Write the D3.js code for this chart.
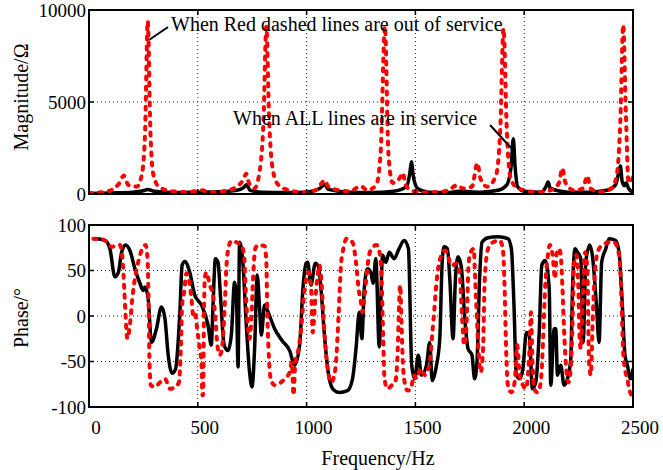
<!DOCTYPE html>
<html>
<head>
<meta charset="utf-8">
<script src="https://cdn.jsdelivr.net/npm/d3@7"></script>
<style>
  body { margin: 0; background: #fff; }
  svg { display: block; }
  text { font-family: "Liberation Serif", "Times New Roman", "DejaVu Serif", serif; fill: #000; }
</style>
</head>
<body>
<svg id="chart" width="663" height="470"></svg>
<script>
// ---- data: [frequency Hz, value] ----
const xTicks = [0, 500, 1000, 1500, 2000, 2500];
const magTicks = [0, 5000, 10000];
const phaseTicks = [-100, -50, 0, 50, 100];

// magnitude (ohm), all lines in service
const blackMag = [[0,30],[100,60],[200,100],[250,180],[270,250],[300,150],[400,80],[500,100],[600,120],[680,200],[710,350],[724,500],[740,200],[800,100],[900,80],[1000,100],[1060,300],[1083,500],[1100,250],[1200,100],[1300,80],[1400,150],[1460,400],[1475,1200],[1482,1750],[1490,1000],[1510,300],[1560,100],[1650,80],[1700,150],[1800,100],[1880,200],[1920,500],[1940,1500],[1950,3000],[1958,1500],[1970,400],[2000,150],[2080,100],[2100,400],[2110,650],[2120,300],[2200,100],[2300,100],[2380,200],[2420,500],[2435,1200],[2442,1520],[2450,700],[2460,450],[2468,600],[2480,300],[2500,80]];

// magnitude (ohm), red dashed lines out of service
const redMag = [[0,50],[50,80],[100,200],[140,600],[160,1000],[180,500],[220,400],[245,1200],[258,3500],[270,9400],[282,3500],[295,1100],[320,400],[380,150],[450,100],[520,200],[560,80],[620,150],[680,400],[710,800],[722,1100],[735,600],[760,300],[785,1300],[802,4000],[815,9100],[828,4000],[845,1300],[870,500],[920,200],[980,100],[1040,200],[1070,600],[1083,750],[1100,400],[1150,200],[1200,150],[1248,430],[1280,200],[1320,500],[1340,2200],[1360,9100],[1376,2200],[1395,600],[1430,900],[1442,1150],[1455,500],[1480,200],[1530,80],[1600,100],[1650,200],[1693,480],[1720,300],[1760,400],[1785,1680],[1800,800],[1830,400],[1870,1000],[1890,3500],[1905,9000],[1920,3500],[1935,1000],[1960,400],[2000,200],[2060,100],[2120,200],[2160,600],[2175,1400],[2190,600],[2230,200],[2270,300],[2290,980],[2305,300],[2350,100],[2400,300],[2425,1000],[2442,4000],[2455,9200],[2467,4500],[2480,600],[2500,900]];

// phase (deg), all lines in service
const blackPhase = [[20,85],[35,85],[73,83],[96,74],[119,43],[135,48],[150,70],[168,78],[188,72],[211,52],[234,36],[249,28],[257,32],[272,19],[287,-29],[310,-14],[333,10],[349,-3],[364,-43],[382,-63],[398,-58],[417,1],[428,56],[440,60],[463,48],[486,23],[517,12],[547,-10],[562,-32],[570,12],[581,63],[593,59],[605,19],[621,-32],[639,-38],[654,-21],[669,37],[677,26],[685,-56],[692,81],[708,56],[723,-10],[738,-62],[749,-78],[761,-36],[773,45],[784,8],[792,-21],[807,12],[825,3],[853,-14],[887,-27],[922,-38],[945,-54],[968,-32],[983,30],[998,58],[1005,59],[1020,34],[1040,58],[1055,54],[1066,30],[1081,-18],[1097,-58],[1120,-80],[1150,-84],[1188,-82],[1211,-69],[1227,-36],[1242,4],[1254,-25],[1265,30],[1280,52],[1295,48],[1306,36],[1318,63],[1334,-34],[1349,67],[1364,59],[1380,70],[1402,63],[1425,74],[1448,83],[1468,74],[1483,-54],[1497,-69],[1513,-43],[1528,-65],[1551,-54],[1566,-29],[1577,-71],[1597,-54],[1612,-25],[1623,59],[1632,76],[1647,74],[1658,41],[1673,-25],[1684,41],[1696,65],[1711,54],[1727,-3],[1742,-36],[1760,-43],[1772,-69],[1783,-51],[1795,41],[1806,81],[1834,86],[1880,87],[1925,85],[1941,74],[1953,12],[1964,-65],[1979,-69],[1994,-58],[2010,-18],[2023,-21],[2038,-80],[2053,-73],[2069,-18],[2081,56],[2096,61],[2115,30],[2122,-76],[2138,-14],[2145,-14],[2153,-65],[2168,-54],[2183,-76],[2199,-69],[2214,-47],[2222,30],[2234,74],[2245,70],[2260,63],[2271,-29],[2283,59],[2301,78],[2313,67],[2332,12],[2344,-29],[2356,59],[2375,74],[2390,85],[2420,83],[2436,70],[2451,12],[2463,-43],[2474,-54],[2489,-69],[2500,-58]];

// phase (deg), red dashed lines out of service
const redPhase = [[20,85],[43,85],[81,82],[104,76],[122,77],[142,78],[154,63],[162,30],[168,1],[176,-25],[188,-10],[199,19],[211,41],[226,59],[245,74],[260,78],[269,63],[274,12],[278,-51],[284,-76],[303,-78],[326,-73],[349,-69],[372,-80],[395,-78],[413,-73],[422,-36],[428,12],[437,26],[448,47],[459,41],[471,19],[479,1],[486,4],[499,-18],[509,-36],[517,-51],[521,-87],[524,-87],[529,12],[532,41],[540,48],[555,34],[570,23],[581,-3],[590,-32],[601,-43],[611,-36],[624,12],[631,52],[642,76],[657,83],[677,81],[700,78],[712,67],[723,15],[731,-14],[738,-25],[746,-3],[754,41],[764,74],[777,78],[807,77],[815,59],[819,8],[825,-36],[835,-69],[853,-76],[876,-74],[899,-69],[922,-62],[932,-51],[940,-87],[948,-51],[963,-36],[975,-14],[988,23],[998,41],[1009,48],[1021,30],[1028,-18],[1040,19],[1051,45],[1058,56],[1066,45],[1077,1],[1086,-32],[1097,-58],[1112,-73],[1123,-69],[1135,-51],[1147,1],[1158,56],[1169,74],[1184,85],[1211,81],[1227,59],[1239,30],[1250,15],[1257,4],[1265,19],[1276,45],[1288,68],[1306,76],[1321,78],[1337,68],[1346,30],[1352,-25],[1358,-69],[1372,-80],[1392,-76],[1407,-73],[1418,-43],[1425,12],[1430,34],[1436,-7],[1441,-43],[1448,-69],[1464,-82],[1479,-80],[1494,-65],[1505,-69],[1525,-58],[1543,-65],[1566,-51],[1577,-21],[1586,4],[1597,37],[1607,56],[1620,67],[1635,72],[1650,67],[1662,56],[1673,56],[1688,58],[1704,45],[1714,1],[1724,-32],[1734,-14],[1745,59],[1754,70],[1769,74],[1772,56],[1780,12],[1788,-29],[1800,-62],[1811,-36],[1818,37],[1834,74],[1857,81],[1887,83],[1902,74],[1910,30],[1916,-29],[1925,-76],[1941,-84],[1956,-73],[1968,-32],[1979,-65],[1994,-76],[2008,-80],[2023,-43],[2031,4],[2038,-51],[2046,-80],[2061,-84],[2076,-73],[2087,-25],[2096,30],[2107,63],[2118,78],[2130,68],[2142,41],[2148,67],[2160,74],[2168,67],[2176,30],[2183,-14],[2191,-51],[2203,-73],[2214,-58],[2222,-7],[2229,56],[2240,67],[2249,30],[2255,-25],[2260,-36],[2271,30],[2280,70],[2290,52],[2298,-51],[2306,-65],[2316,4],[2329,59],[2344,74],[2367,79],[2390,81],[2413,81],[2436,67],[2448,12],[2454,-36],[2463,-58],[2474,-69],[2482,-80],[2497,-88]];

// ---- layout ----
const svg = d3.select('#chart');
const left = 89, right = 633;
const x = d3.scaleLinear().domain([0, 2500]).range([left, right]);
const yMag = d3.scaleLinear().domain([0, 10000]).range([194, 10]);
const yPh = d3.scaleLinear().domain([-100, 100]).range([407, 225]);
const serif = '"Liberation Serif", "Times New Roman", serif';

function drawPanel(y, yTicks, blackData, redData, id, showX) {
  const [y0, y1] = y.range();  // bottom, top
  const g = svg.append('g');

  g.append('clipPath').attr('id', id)
    .append('rect').attr('x', left).attr('y', y1).attr('width', right - left).attr('height', y0 - y1);

  // dotted grid
  xTicks.slice(1, -1).forEach(t => {
    g.append('line').attr('x1', x(t)).attr('x2', x(t)).attr('y1', y0).attr('y2', y1)
      .attr('stroke', '#222').attr('stroke-width', 1).attr('stroke-dasharray', '1,3');
  });
  yTicks.slice(1, -1).forEach(t => {
    g.append('line').attr('x1', left).attr('x2', right).attr('y1', y(t)).attr('y2', y(t))
      .attr('stroke', '#222').attr('stroke-width', 1).attr('stroke-dasharray', '1,3');
  });

  const line = d3.line().x(d => x(d[0])).y(d => y(d[1])).curve(d3.curveMonotoneX);
  const plot = g.append('g').attr('clip-path', `url(#${id})`);

  plot.append('path').attr('d', line(blackData))
    .attr('fill', 'none').attr('stroke', '#000').attr('stroke-width', 3.5)
    .attr('stroke-linejoin', 'round');
  plot.append('path').attr('d', line(redData))
    .attr('fill', 'none').attr('stroke', '#ff0000').attr('stroke-width', 4)
    .attr('stroke-dasharray', '3,7').attr('stroke-linecap', 'round');

  // inward ticks on all four sides
  xTicks.forEach(t => {
    g.append('line').attr('x1', x(t)).attr('x2', x(t)).attr('y1', y0).attr('y2', y0 - 5).attr('stroke', '#000').attr('stroke-width', 1.5);
    g.append('line').attr('x1', x(t)).attr('x2', x(t)).attr('y1', y1).attr('y2', y1 + 5).attr('stroke', '#000').attr('stroke-width', 1.5);
  });
  yTicks.forEach(t => {
    g.append('line').attr('x1', left).attr('x2', left + 5).attr('y1', y(t)).attr('y2', y(t)).attr('stroke', '#000').attr('stroke-width', 1.5);
    g.append('line').attr('x1', right).attr('x2', right - 5).attr('y1', y(t)).attr('y2', y(t)).attr('stroke', '#000').attr('stroke-width', 1.5);
  });

  // frame
  g.append('rect').attr('x', left).attr('y', y1).attr('width', right - left).attr('height', y0 - y1)
    .attr('fill', 'none').attr('stroke', '#000').attr('stroke-width', 2);

  // tick labels
  yTicks.forEach(t => {
    g.append('text').attr('x', left - 3).attr('y', y(t)).attr('dy', '0.35em')
      .attr('font-family', serif).attr('text-anchor', 'end').attr('font-size', 19).text(t);
  });
  if (showX) {
    xTicks.forEach(t => {
      g.append('text').attr('x', x(t) + 7).attr('y', 434)
        .attr('font-family', serif).attr('text-anchor', 'middle').attr('font-size', 19).text(t);
    });
  }
}

drawPanel(yMag, magTicks, blackMag, redMag, 'clipMag', false);
drawPanel(yPh, phaseTicks, blackPhase, redPhase, 'clipPh', true);

// axis titles
svg.append('text').attr('transform', 'translate(28,97) rotate(-90)').attr('font-family', serif)
  .attr('text-anchor', 'middle').attr('font-size', 20).text('Magnitude/Ω');
svg.append('text').attr('transform', 'translate(28,318) rotate(-90)').attr('font-family', serif)
  .attr('text-anchor', 'middle').attr('font-size', 20).text('Phase/°');
svg.append('text').attr('x', 378).attr('y', 465).attr('font-family', serif)
  .attr('text-anchor', 'middle').attr('font-size', 20).text('Frequency/Hz');

// annotations
svg.append('line').attr('x1', 149).attr('y1', 40).attr('x2', 168).attr('y2', 27)
  .attr('stroke', '#000').attr('stroke-width', 2);
svg.append('text').attr('x', 171).attr('y', 31).attr('font-family', serif).attr('font-size', 20)
  .text('When Red dashed lines are out of service');
svg.append('line').attr('x1', 490).attr('y1', 125).attr('x2', 513).attr('y2', 150)
  .attr('stroke', '#000').attr('stroke-width', 2);
svg.append('text').attr('x', 233).attr('y', 125).attr('font-family', serif).attr('font-size', 20)
  .text('When ALL lines are in service');
</script>
</body>
</html>
